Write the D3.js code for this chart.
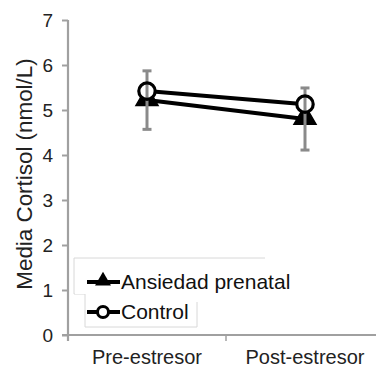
<!DOCTYPE html>
<html><head><meta charset="utf-8">
<script src="https://cdn.jsdelivr.net/npm/d3@7"></script>
<style>
html,body{margin:0;padding:0;background:#fff;}
svg{display:block;font-family:"Liberation Sans",Arial,Helvetica,sans-serif;}
</style></head>
<body><svg id="c" width="376" height="369"></svg>
<script>
const categories = ["Pre-estresor", "Post-estresor"];
const seriesNames = ["Ansiedad prenatal", "Control"];
const ansiedad = [5.22, 4.8];
const ansiedadErr = [0.65, 0.69];
const control = [5.42, 5.13];
const yTicks = [0, 1, 2, 3, 4, 5, 6, 7];
const yTitle = "Media Cortisol (nmol/L)";

const svg = d3.select("#c");
const x = d3.scaleBand().domain(categories).range([68, 384]).padding(0);
const y = d3.scaleLinear().domain([0, 7]).range([335, 20]);
const axisCol = "#a0a0a0";

// Y axis
const ya = svg.append("g").attr("transform", "translate(68,0)")
  .call(d3.axisLeft(y).tickValues(yTicks).tickSize(6).tickPadding(9).tickFormat(d3.format("d")));
ya.select(".domain").attr("stroke", axisCol).attr("stroke-width", 2.2).attr("d", "M0," + y(7) + "V" + (y(0) + 6));
ya.selectAll(".tick line").attr("stroke", axisCol).attr("stroke-width", 2);
ya.selectAll(".tick text").attr("font-size", 19).attr("fill", "#222")
  .attr("font-family", "Liberation Sans, Arial, sans-serif");

// X axis line and tick
svg.append("line").attr("x1", 62).attr("x2", 384).attr("y1", y(0)).attr("y2", y(0))
  .attr("stroke", axisCol).attr("stroke-width", 2.2);
svg.append("line").attr("x1", x(categories[1])).attr("x2", x(categories[1]))
  .attr("y1", y(0)).attr("y2", y(0) + 6).attr("stroke", axisCol).attr("stroke-width", 1.5);
svg.selectAll(".xl").data(categories).enter().append("text")
  .attr("x", d => x(d) + x.bandwidth() / 2).attr("y", 364)
  .attr("text-anchor", "middle").attr("font-size", 20).attr("fill", "#222").text(d => d);

// Y title
svg.append("text").attr("transform", "translate(32," + 174 + ") rotate(-90)")
  .attr("text-anchor", "middle").attr("font-size", 22.4).attr("fill", "#222").text(yTitle);

const cx = d => x(d) + x.bandwidth() / 2;
const line = d3.line().x(d => cx(d.c)).y(d => y(d.v));
const aData = categories.map((c, i) => ({c, v: ansiedad[i], e: ansiedadErr[i]}));
const cData = categories.map((c, i) => ({c, v: control[i]}));

// Lines
svg.append("path").datum(aData).attr("d", line).attr("fill", "none").attr("stroke", "#000").attr("stroke-width", 4);
svg.append("path").datum(cData).attr("d", line).attr("fill", "none").attr("stroke", "#000").attr("stroke-width", 4);

// Triangles
const tri = d3.symbol().type(d3.symbolTriangle).size(210);
svg.selectAll(".tri").data(aData).enter().append("path")
  .attr("d", tri).attr("transform", d => "translate(" + cx(d.c) + "," + (y(d.v) - 1) + ")")
  .attr("fill", "#000").attr("stroke", "#000").attr("stroke-width", 1.5);

// Circles (fill)
svg.selectAll(".cf").data(cData).enter().append("circle")
  .attr("cx", d => cx(d.c)).attr("cy", d => y(d.v)).attr("r", 8.2).attr("fill", "#fff");

// Error bars
const eb = svg.selectAll(".eb").data(aData).enter().append("g");
eb.append("line").attr("x1", d => cx(d.c)).attr("x2", d => cx(d.c))
  .attr("y1", d => y(d.v + d.e)).attr("y2", d => y(d.v - d.e)).attr("stroke", "#8a8a8a").attr("stroke-width", 3);
eb.append("line").attr("x1", d => cx(d.c) - 4.5).attr("x2", d => cx(d.c) + 4.5)
  .attr("y1", d => y(d.v + d.e)).attr("y2", d => y(d.v + d.e)).attr("stroke", "#8a8a8a").attr("stroke-width", 3);
eb.append("line").attr("x1", d => cx(d.c) - 4.5).attr("x2", d => cx(d.c) + 4.5)
  .attr("y1", d => y(d.v - d.e)).attr("y2", d => y(d.v - d.e)).attr("stroke", "#8a8a8a").attr("stroke-width", 3);

// Circles (stroke)
svg.selectAll(".cs").data(cData).enter().append("circle")
  .attr("cx", d => cx(d.c)).attr("cy", d => y(d.v)).attr("r", 8.2).attr("fill", "none")
  .attr("stroke", "#000").attr("stroke-width", 3.2);

// Legend
const lg = svg.append("g");
lg.append("path").attr("d", "M265,258H74V294H85").attr("fill", "none").attr("stroke", "#d8d8d8").attr("stroke-width", 1);
lg.append("path").attr("d", "M85,294V327H197V302").attr("fill", "none").attr("stroke", "#d8d8d8").attr("stroke-width", 1);
lg.append("rect").attr("x", 75).attr("y", 259).attr("width", 189).attr("height", 35).attr("fill", "#fff");
const items = [{name: seriesNames[0], yy: 282, type: "tri"}, {name: seriesNames[1], yy: 312, type: "circ"}];
items.forEach(it => {
  lg.append("line").attr("x1", 87).attr("x2", 120).attr("y1", it.yy).attr("y2", it.yy).attr("stroke", "#000").attr("stroke-width", 4);
  if (it.type === "tri") {
    lg.append("path").attr("d", d3.symbol().type(d3.symbolTriangle).size(110)).attr("transform", "translate(103," + (it.yy - 1) + ")").attr("fill", "#000");
  } else {
    lg.append("circle").attr("cx", 103).attr("cy", it.yy).attr("r", 5.5).attr("fill", "#fff").attr("stroke", "#000").attr("stroke-width", 3);
  }
  lg.append("text").attr("x", 121).attr("y", it.yy + 7).attr("font-size", 21).attr("fill", "#111").text(it.name);
});
</script></body></html>
